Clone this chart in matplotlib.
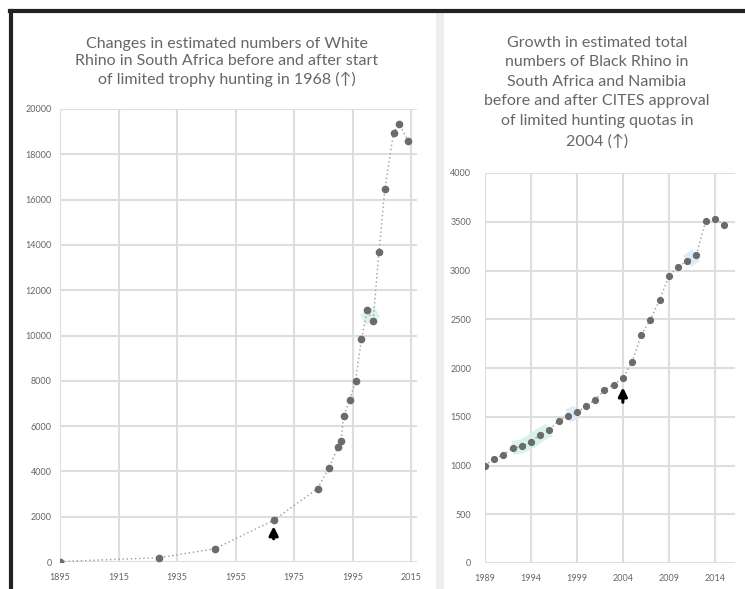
import matplotlib
matplotlib.use("Agg")
import matplotlib.pyplot as plt
from matplotlib.lines import Line2D
from matplotlib.patches import Rectangle

# White rhino, South Africa
white_years = [1895, 1929, 1948, 1968, 1983, 1987, 1990, 1991, 1992, 1994,
               1996, 1998, 2000, 2002, 2004, 2006, 2009, 2011, 2014]
white_counts = [20, 190, 590, 1840, 3240, 4170, 5080, 5340, 6450, 7170,
                7990, 9830, 11110, 10640, 13690, 16460, 18960, 19320, 18590]
white_xticks = [1895, 1915, 1935, 1955, 1975, 1995, 2015]
white_yticks = list(range(0, 20001, 2000))

# Black rhino, South Africa + Namibia
black_years = list(range(1989, 2016))
black_counts = [1000, 1070, 1110, 1180, 1195, 1245, 1315, 1365, 1460, 1510,
                1545, 1610, 1675, 1775, 1830, 1895, 2060, 2340, 2495, 2700,
                2940, 3040, 3095, 3160, 3505, 3530, 3470]
black_xticks = [1989, 1994, 1999, 2004, 2009, 2014]
black_yticks = list(range(0, 4001, 500))

title_left = ("Changes in estimated numbers of White\n"
              "Rhino in South Africa before and after start\n"
              "of limited trophy hunting in 1968 (\u2191)")
title_right = ("Growth in estimated total\n"
               "numbers of Black Rhino in\n"
               "South Africa and Namibia\n"
               "before and after CITES approval\n"
               "of limited hunting quotas in\n"
               "2004 (\u2191)")

text_col = "#666666"
grid_col = "#dedede"
marker_col = "#6b6b6b"
plt.rcParams['font.family'] = ['Lato', 'DejaVu Sans']

fig = plt.figure(figsize=(7.45, 5.89), dpi=100)

# frame lines and panel separator
fig.add_artist(Line2D([10 / 745, 1], [1 - 11 / 589] * 2, color="#222222", lw=3))
fig.add_artist(Line2D([11 / 745] * 2, [0, 1 - 11 / 589], color="#222222", lw=3))
fig.add_artist(Rectangle((436 / 745, 0), 8 / 745, 1 - 13 / 589,
                         color="#eeeeee", lw=0))


def style_axes(ax, xticks, yticks):
    for s in ax.spines.values():
        s.set_visible(False)
    ax.set_xticks(xticks)
    ax.set_yticks(yticks)
    ax.grid(True, color=grid_col, lw=1.5)
    ax.set_axisbelow(True)
    ax.tick_params(length=0, labelsize=6.5, colors=text_col)


# left panel
ax1 = fig.add_axes([60 / 745, 1 - 562 / 589, 357 / 745, 453 / 589])
style_axes(ax1, white_xticks, white_yticks)
ax1.tick_params(axis='y', pad=6)
ax1.tick_params(axis='x', pad=8)
ax1.set_xlim(1895, 2017)
ax1.set_ylim(0, 20000)
ax1.plot(white_years[12:14], white_counts[12:14], color="#d3f2e6", lw=12,
         alpha=0.8, solid_capstyle='butt', zorder=1)
ax1.plot(white_years, white_counts, linestyle=(0, (1, 2)), color="#9a9a9a",
         lw=1, zorder=2)
ax1.plot(white_years, white_counts, 'o', color=marker_col, ms=4.5, zorder=3)
ax1.annotate('', xy=(1968, 1700), xytext=(1968, 900),
             arrowprops=dict(arrowstyle='-|>', color='black', lw=2.2,
                             mutation_scale=13))
fig.text(227 / 745, 1 - 62 / 589, title_left, ha='center', va='center',
         fontsize=11.5, color=text_col, linespacing=1.3)

# right panel
ax2 = fig.add_axes([485 / 745, 1 - 563 / 589, 250 / 745, 390 / 589])
style_axes(ax2, black_xticks, black_yticks)
ax2.tick_params(axis='y', pad=10)
ax2.tick_params(axis='x', pad=8)
ax2.set_xlim(1989, 2016.2)
ax2.set_ylim(0, 4000)
for i, j, c in [(3, 8, "#d3f2e6"), (9, 11, "#dbeaf8"), (22, 24, "#dbeaf8")]:
    ax2.plot(black_years[i:j], black_counts[i:j], color=c, lw=10, alpha=0.9,
             solid_capstyle='butt', zorder=1)
ax2.plot(black_years, black_counts, linestyle=(0, (1, 2)), color="#9a9a9a",
         lw=1, zorder=2)
ax2.plot(black_years, black_counts, 'o', color=marker_col, ms=4.2, zorder=3)
ax2.annotate('', xy=(2004, 1830), xytext=(2004, 1620),
             arrowprops=dict(arrowstyle='-|>', color='black', lw=2.2,
                             mutation_scale=13))
fig.text(597 / 745, 1 - 92 / 589, title_right, ha='center', va='center',
         fontsize=11.5, color=text_col, linespacing=1.5)

fig.savefig("out.png", dpi=100)
